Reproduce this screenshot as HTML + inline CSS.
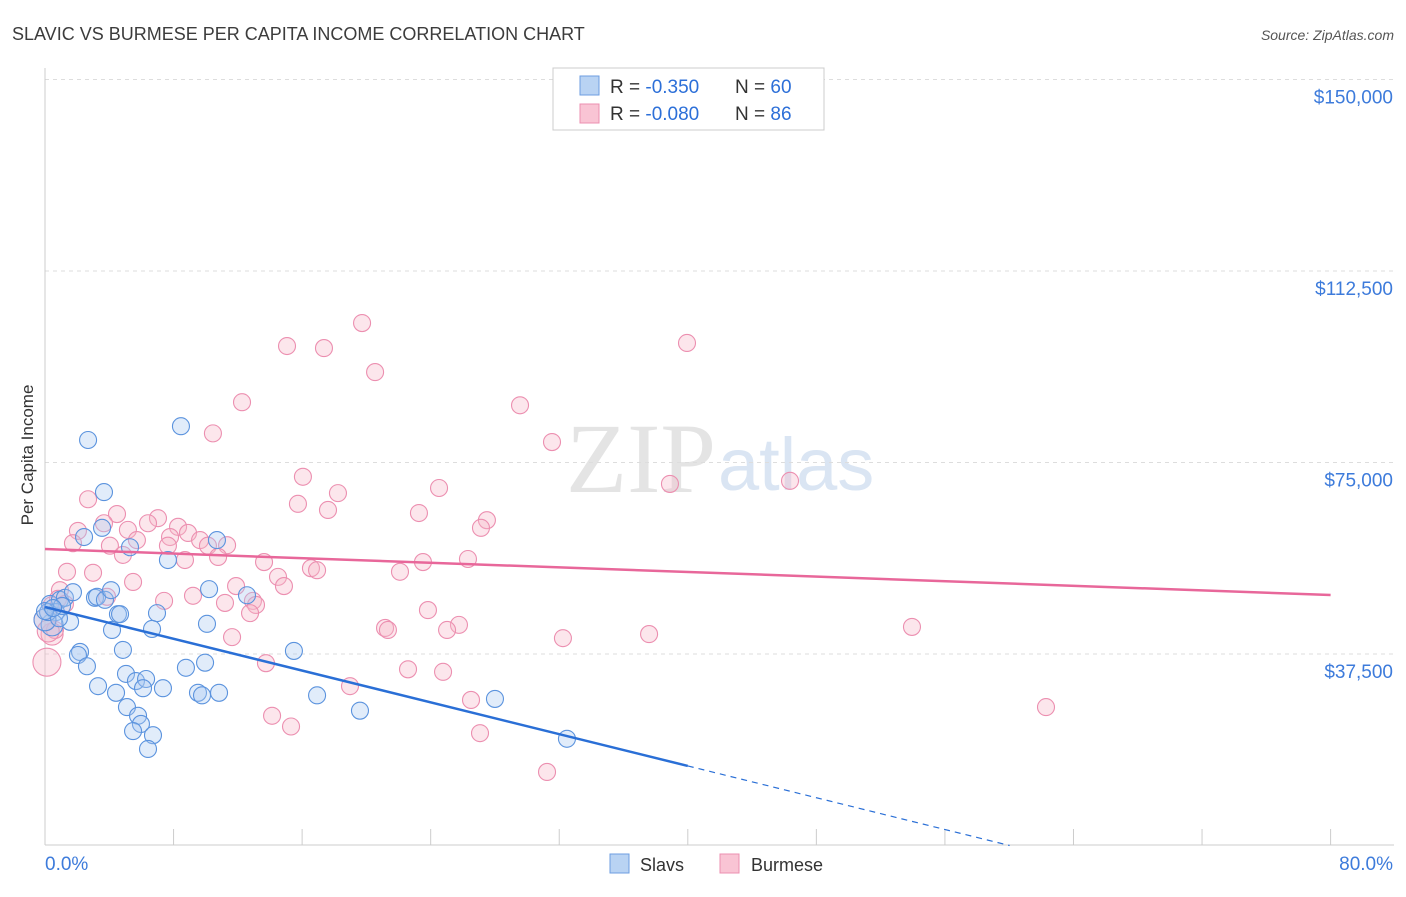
<!DOCTYPE html>
<html><head><meta charset="utf-8">
<style>
body{margin:0;background:#fff;font-family:"Liberation Sans",sans-serif;}
</style></head>
<body>
<svg id="chart" width="1406" height="892" xmlns="http://www.w3.org/2000/svg" font-family="Liberation Sans, sans-serif">
<text x="12" y="40" font-size="18" fill="#3c3c3c">SLAVIC VS BURMESE PER CAPITA INCOME CORRELATION CHART</text>
<text x="1394" y="40" font-size="14" fill="#555" text-anchor="end" font-style="italic">Source: ZipAtlas.com</text>
<text x="33" y="455" font-size="17" fill="#333" text-anchor="middle" transform="rotate(-90 33 455)">Per Capita Income</text>
<text x="716" y="492" font-size="100" fill="#e4e4e4" text-anchor="end" style="font-family:'Liberation Serif',serif">ZIP</text>
<text x="718" y="490" font-size="74" fill="#dae5f3">atlas</text>
<g id="grid"></g><g id="axes"></g><g id="pts"></g><g id="lines"></g>
<g>
<rect x="553" y="68" width="271" height="62" fill="#fff" stroke="#ccc"/>
<rect x="580" y="76" width="19" height="19" fill="#b9d3f3" stroke="#6d9ee0"/>
<rect x="580" y="104" width="19" height="19" fill="#f9c4d4" stroke="#ec8fb0"/>
<text x="610" y="93" font-size="19" fill="#333">R = <tspan fill="#2c6fd8">-0.350</tspan></text>
<text x="735" y="93" font-size="19" fill="#333">N = <tspan fill="#2c6fd8">60</tspan></text>
<text x="610" y="120" font-size="19" fill="#333">R = <tspan fill="#2c6fd8">-0.080</tspan></text>
<text x="735" y="120" font-size="19" fill="#333">N = <tspan fill="#2c6fd8">86</tspan></text>
</g>
<g>
<rect x="610" y="854" width="19" height="19" fill="#b9d3f3" stroke="#6d9ee0"/>
<text x="640" y="871" font-size="18" fill="#333">Slavs</text>
<rect x="720" y="854" width="19" height="19" fill="#f9c4d4" stroke="#ec8fb0"/>
<text x="751" y="871" font-size="18" fill="#333">Burmese</text>
</g>
</svg>
<script>
const yTicks=[37500,75000,112500,150000];
const yTickLabels=["$37,500","$75,000","$112,500","$150,000"];
const xTickLabels=["0.0%","80.0%"];
const slavsX=[2.68,8.46,3.67,3.55,10.70,5.29,2.43,7.65,0.31,0.93,1.24,1.74,3.11,3.24,3.73,4.11,4.54,4.67,6.97,10.21,12.57,0.68,1.56,0.44,4.17,6.66,10.08,2.18,2.05,4.85,2.61,15.49,8.77,9.96,5.04,5.66,6.29,3.30,4.42,6.10,7.34,9.52,9.77,10.83,16.93,28.00,5.10,5.79,5.97,5.48,6.72,6.41,19.60,32.48,0,0.19,0.87,1.06,0,0.5];
const slavsY=[79.4,82.1,69.2,62.2,59.8,58.4,60.4,55.9,47.3,48.1,48.5,49.6,48.5,48.7,48.1,50.0,45.3,45.3,45.5,50.2,49.0,45.7,43.8,43.2,42.2,42.4,43.4,37.9,37.3,38.3,35.1,38.1,34.8,35.8,33.6,32.2,32.6,31.2,29.9,30.8,30.8,29.9,29.4,29.9,29.4,28.7,27.1,25.4,23.8,22.4,21.6,18.9,26.4,20.9,44.2,45.7,44.5,46.9,45.9,46.5];
const burmX=[19.73,15.06,17.36,39.95,20.54,12.26,29.56,10.45,31.55,38.89,46.36,16.05,24.52,18.23,15.74,17.61,2.68,23.27,27.50,27.13,4.48,7.03,6.41,8.28,3.67,2.05,5.16,7.78,8.90,11.33,9.65,1.74,4.04,5.72,7.65,10.14,26.32,23.52,10.77,13.63,4.85,8.71,16.55,16.93,22.09,1.37,2.99,5.48,11.89,14.50,14.87,0.93,9.21,7.41,12.94,13.13,11.20,3.86,12.76,0.81,1.24,23.83,21.16,21.34,25.76,25.02,11.64,32.23,37.59,53.95,0.44,0.62,13.75,22.59,24.77,0.12,18.98,26.51,14.13,15.31,27.07,62.29,31.24,0,0.2,0.4];
const burmY=[102.3,97.8,97.4,98.4,92.7,86.8,86.2,80.7,79.0,70.8,71.4,72.2,70.0,69.0,66.9,65.7,67.8,65.1,63.7,62.2,64.9,64.1,63.1,62.4,63.1,61.6,61.8,60.4,61.2,58.8,59.8,59.2,58.7,59.8,58.7,58.7,56.1,55.5,56.5,55.5,56.9,55.9,54.3,53.9,53.6,53.6,53.4,51.6,50.8,52.6,50.8,50.0,48.9,47.9,47.9,47.1,47.5,48.7,45.5,48.3,47.3,46.1,42.6,42.2,43.2,42.2,40.8,40.6,41.4,42.8,41.4,42.2,35.7,34.5,34.0,35.9,31.2,28.5,25.4,23.3,22.0,27.1,14.4,44.2,42.0,47.0];
const slavsTrend=[46.7,-0.778];
const burmTrend=[58.06,-0.1126];
const NS="http://www.w3.org/2000/svg";
function X(p){return 45+p*16.07;}
function Y(k){return 845.5-k*5.107;}
function mk(t,a,p){const e=document.createElementNS(NS,t);for(const k in a)e.setAttribute(k,a[k]);document.getElementById(p).appendChild(e);return e;}
yTicks.forEach((v,i)=>{
 const g=mk('line',{x1:45,x2:1394,y1:Y(v/1000),y2:Y(v/1000),stroke:'#ddd','stroke-dasharray':'4 4'},'grid');
 
 
 const t=mk('text',{x:1393,y:Y(v/1000)+24,'font-size':19,fill:'#3d7bdb','text-anchor':'end'},'grid');
 t.textContent=yTickLabels[i];
 
 
});
const ax=mk('line',{x1:45,x2:1394,y1:845,y2:845,stroke:'#ccc'},'axes');


const ay=mk('line',{x1:45,x2:45,y1:68,y2:845,stroke:'#ccc'},'axes');


for(let i=0;i<=10;i++){const t=mk('line',{x1:X(i*8),x2:X(i*8),y1:829,y2:845,stroke:'#ccc'},'axes');
 
 }
xTickLabels.forEach((l,i)=>{const t=mk('text',{x:i?1393:45,y:870,'font-size':19,fill:'#3d7bdb','text-anchor':i?'end':'start'},'axes');t.textContent=l;
 
 });
function pts(xs,ys,fill,stroke,name){xs.forEach((x,i)=>{
 const r=(x<0.2&&ys[i]<37)?14:(x<0.5&&ys[i]<45&&ys[i]>40?11:8.5);
 const c=mk('circle',{cx:X(x),cy:Y(ys[i]),r:r,fill:fill,'fill-opacity':0.35,stroke:stroke,'stroke-width':1.1},'pts');
 
 });}
pts(burmX,burmY,'#f7b6c9','#ec8fb0','burmese-point');
pts(slavsX,slavsY,'#a9c8f0','#5b93de','slavs-point');
let l=mk('line',{x1:X(0),y1:Y(slavsTrend[0]),x2:X(40),y2:Y(slavsTrend[0]+slavsTrend[1]*40),stroke:'#2a6fd6','stroke-width':2.5},'lines');


const xz=-slavsTrend[0]/slavsTrend[1];
l=mk('line',{x1:X(40),y1:Y(slavsTrend[0]+slavsTrend[1]*40),x2:X(xz),y2:Y(0),stroke:'#2a6fd6','stroke-width':1.2,'stroke-dasharray':'6 5'},'lines');


l=mk('line',{x1:X(0),y1:Y(burmTrend[0]),x2:X(80),y2:Y(burmTrend[0]+burmTrend[1]*80),stroke:'#e8679a','stroke-width':2.5},'lines');


</script>
</body></html>
